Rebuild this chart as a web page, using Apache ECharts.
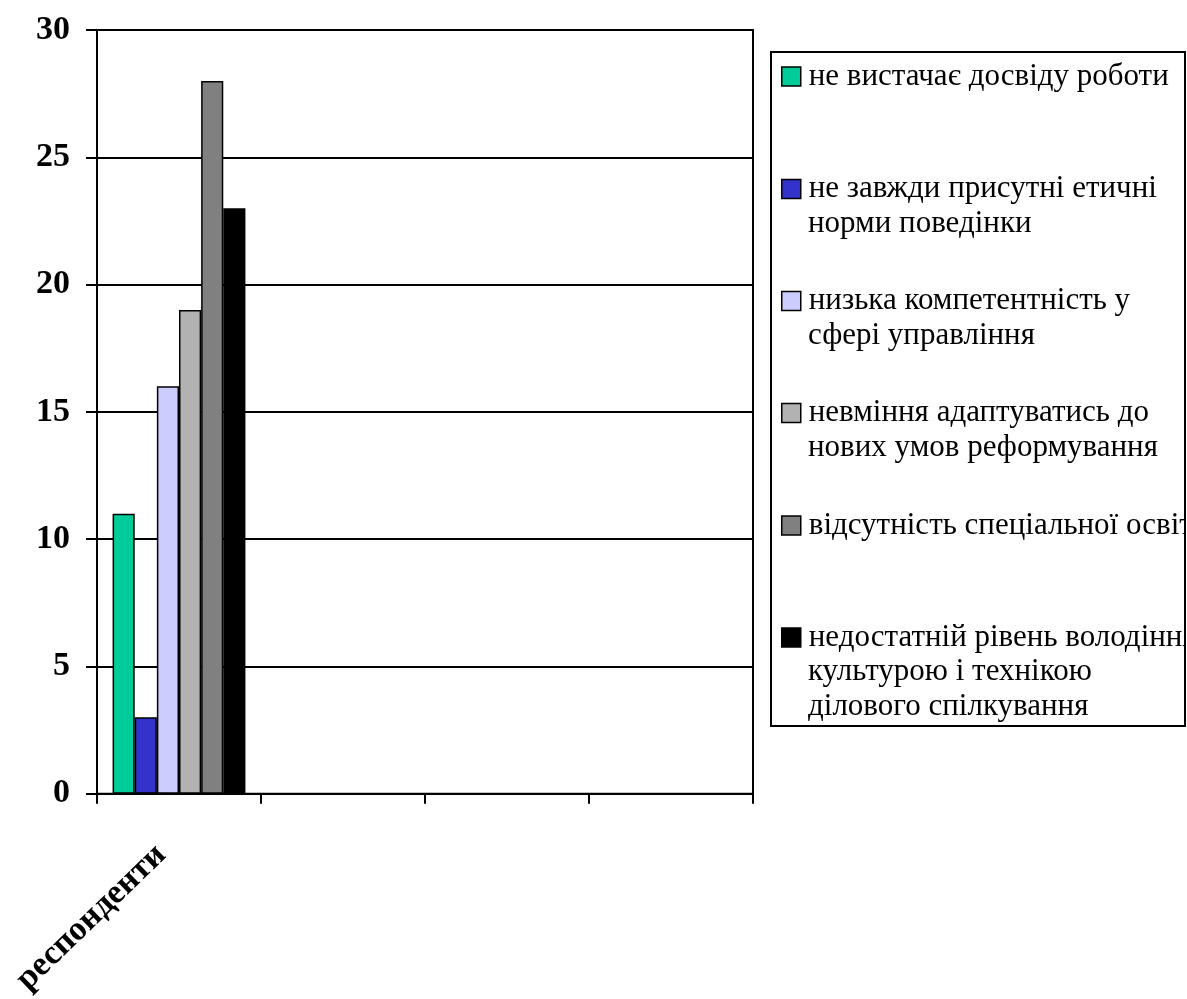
<!DOCTYPE html>
<html>
<head>
<meta charset="utf-8">
<style>
  html, body { margin: 0; padding: 0; background: #fff; }
  #chart { width: 1187px; height: 999px; }
</style>
<script src="https://cdn.jsdelivr.net/npm/echarts@6/dist/echarts.min.js"></script>
</head>
<body>
<div id="chart"></div>
<script>
// Categories on the x axis (only the first one carries data)
const categories = ['респонденти', '', '', ''];

// One value per answer for the "респонденти" group
const values = [11, 3, 16, 19, 28, 23];

// Legend labels, split into the lines they are printed on
const legendLines = [
  ['не вистачає досвіду роботи'],
  ['не завжди присутні етичні', 'норми поведінки'],
  ['низька компетентність у', 'сфері управління'],
  ['невміння адаптуватись до', 'нових умов реформування'],
  ['відсутність спеціальної освіти'],
  ['недостатній рівень володіння', 'культурою і технікою', 'ділового спілкування']
];

const colors = ['#00CC99', '#3333CC', '#CCCCFF', '#B2B2B2', '#808080', '#000000'];

const yTicks = [0, 5, 10, 15, 20, 25, 30];

const FONT = '"Liberation Serif", "Times New Roman", serif';
const LEGEND_FONT_SIZE = 31;
const LINE_H = 34;
const NEXT_LINE = 34.5;
const legendFirstCenters = [76.5, 189, 301, 413, 525.5, 637.5];
const legendTextX = 808;

// Legend frame
const BOX = { x: 771, y: 52, w: 414, h: 674 };

const seriesNames = legendLines.map(l => l.join(' '));

const series = seriesNames.map((name, i) => ({
  name: name,
  type: 'bar',
  barGap: '0%',
  barCategoryGap: '19%',
  data: categories.map((c, ci) => (ci === 0 ? values[i] : '-')),
  itemStyle: { color: colors[i], borderColor: '#000', borderWidth: 1.5 },
  animation: false
}));

const legends = seriesNames.map((name, i) => ({
  data: [name],
  orient: 'vertical',
  left: 781,
  top: legendFirstCenters[i] - LINE_H / 2,
  padding: 0,
  icon: 'rect',
  itemWidth: 19,
  itemHeight: 19,
  selectedMode: false,
  itemStyle: { borderColor: '#000', borderWidth: 1.5 },
  formatter: () => legendLines[i][0],
  textStyle: {
    fontFamily: FONT,
    fontSize: LEGEND_FONT_SIZE,
    color: '#000',
    lineHeight: LINE_H,
    padding: [0, 0, 0, 3]
  }
}));

// Continuation lines of multi-line legend entries
const extraLines = [];
legendLines.forEach((lines, i) => {
  lines.slice(1).forEach((txt, k) => {
    extraLines.push({
      type: 'text',
      left: legendTextX,
      top: legendFirstCenters[i] + (k + 1) * NEXT_LINE - LINE_H / 2,
      style: {
        text: txt,
        fontFamily: FONT,
        fontSize: LEGEND_FONT_SIZE,
        fill: '#000',
        lineHeight: LINE_H
      },
      z: 10
    });
  });
});

const chart = echarts.init(document.getElementById('chart'), null, { renderer: 'canvas' });

chart.setOption({
  animation: false,
  backgroundColor: '#fff',
  grid: {
    left: 97, top: 30, width: 656, height: 768,
    show: true, borderColor: '#000', borderWidth: 2, backgroundColor: 'transparent'
  },
  xAxis: {
    type: 'category',
    data: categories,
    boundaryGap: true,
    axisLine: { show: true, lineStyle: { color: '#000', width: 2 } },
    axisTick: { show: true, alignWithLabel: false, interval: 0, length: 10, lineStyle: { color: '#000', width: 2 } },
    axisLabel: {
      interval: 0,
      rotate: 44,
      margin: 39,
      padding: [0, 25, 0, 0],
      fontFamily: FONT,
      fontWeight: 'bold',
      fontSize: 34,
      color: '#000'
    },
    splitLine: { show: false }
  },
  yAxis: {
    type: 'value',
    min: yTicks[0],
    max: yTicks[yTicks.length - 1],
    interval: yTicks[1] - yTicks[0],
    axisLine: { show: true, lineStyle: { color: '#000', width: 2 } },
    axisTick: { show: true, inside: false, length: 11, lineStyle: { color: '#000', width: 2 } },
    axisLabel: {
      margin: 27,
      fontFamily: FONT,
      fontWeight: 'bold',
      fontSize: 34,
      color: '#000'
    },
    splitLine: { show: true, lineStyle: { color: '#000', width: 2 } }
  },
  legend: legends,
  graphic: [
    {
      // white strip that hides legend text running past the frame
      type: 'rect',
      shape: { x: BOX.x + BOX.w - 1, y: BOX.y, width: 10, height: BOX.h },
      style: { fill: '#fff' },
      z: 99
    },
    {
      type: 'rect',
      shape: { x: BOX.x, y: BOX.y, width: BOX.w, height: BOX.h },
      style: { fill: 'transparent', stroke: '#000', lineWidth: 2 },
      z: 100
    }
  ].concat(extraLines),
  series: series
});
</script>
</body>
</html>
